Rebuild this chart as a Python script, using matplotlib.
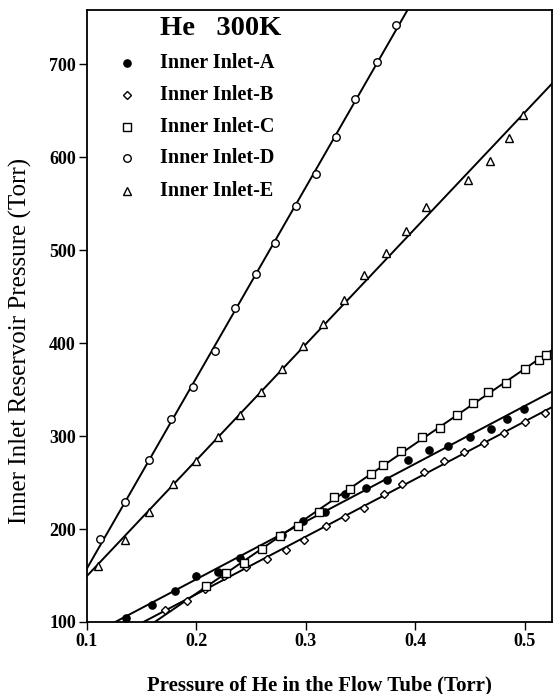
import numpy as np
import matplotlib
matplotlib.use("Agg")
import matplotlib.pyplot as plt

# ---- data ----
xA = [0.136, 0.159, 0.180, 0.200, 0.220, 0.240, 0.278, 0.297, 0.317, 0.336, 0.355,
      0.374, 0.393, 0.412, 0.430, 0.450, 0.469, 0.484, 0.499]
yA = [104, 118, 133, 150, 154, 169, 194, 209, 218, 238, 244,
      253, 274, 285, 289, 299, 308, 318, 329]

xB = [0.171, 0.191, 0.208, 0.225, 0.245, 0.264, 0.282, 0.298, 0.318, 0.336, 0.353,
      0.371, 0.388, 0.408, 0.426, 0.444, 0.463, 0.481, 0.500, 0.518]
yB = [113, 123, 135, 149, 159, 168, 178, 188, 203, 213, 223,
      238, 248, 261, 273, 283, 293, 303, 315, 325]

xC = [0.209, 0.227, 0.243, 0.260, 0.276, 0.293, 0.312, 0.326, 0.340, 0.359, 0.370,
      0.387, 0.406, 0.422, 0.438, 0.453, 0.466, 0.483, 0.500, 0.513, 0.519]
yC = [139, 153, 164, 179, 193, 203, 218, 234, 243, 259, 269,
      284, 299, 309, 323, 336, 347, 357, 372, 382, 387]

xD = [0.112, 0.135, 0.157, 0.177, 0.197, 0.217, 0.235, 0.254, 0.272, 0.291,
      0.309, 0.327, 0.345, 0.365, 0.382]
yD = [189, 229, 274, 318, 353, 392, 438, 474, 508, 548,
      582, 622, 663, 703, 742]

xE = [0.110, 0.135, 0.157, 0.179, 0.200, 0.220, 0.240, 0.259, 0.278, 0.297,
      0.316, 0.335, 0.353, 0.373, 0.391, 0.410, 0.448, 0.468, 0.485, 0.498]
yE = [160, 188, 218, 248, 273, 299, 323, 348, 372, 397,
      421, 446, 473, 497, 521, 547, 576, 596, 621, 646]

labels = ["Inner Inlet-A", "Inner Inlet-B", "Inner Inlet-C", "Inner Inlet-D", "Inner Inlet-E"]
xticks = [0.1, 0.2, 0.3, 0.4, 0.5]
yticks = [100, 200, 300, 400, 500, 600, 700]

plt.rcParams['font.family'] = ['Liberation Serif', 'DejaVu Serif']

fig = plt.figure(figsize=(5.54, 6.94), dpi=100)
ax = fig.add_axes([87/554, 72/694, 465/554, 612/694])

xmin, xmax = 0.1, 0.5247
ymin, ymax = 100, 758.5

styles = [
    dict(marker='o', ms=5.2, mfc='black', mec='black', mew=1.0),
    dict(marker='D', ms=3.6, mfc='white', mec='black', mew=1.0),
    dict(marker='s', ms=5.2, mfc='white', mec='black', mew=1.0),
    dict(marker='o', ms=5.4, mfc='white', mec='black', mew=1.0),
    dict(marker='^', ms=5.6, mfc='white', mec='black', mew=1.0),
]
series = [(xA, yA), (xB, yB), (xC, yC), (xD, yD), (xE, yE)]

xs_line = np.array([xmin - 0.05, xmax + 0.05])
for (xv, yv), st in zip(series, styles):
    k, b = np.polyfit(xv, yv, 1)
    ax.plot(xs_line, k * xs_line + b, color='black', lw=1.4, zorder=2)
    ax.plot(xv, yv, linestyle='none', zorder=3, **st)

ax.set_xlim(xmin, xmax)
ax.set_ylim(ymin, ymax)
ax.set_xticks(xticks)
ax.set_xticklabels([f"{t:g}" for t in xticks])
ax.set_yticks(yticks)
ax.tick_params(direction='out', length=6, width=1.0, labelsize=13, pad=2)
for lab in ax.get_xticklabels() + ax.get_yticklabels():
    lab.set_fontweight('bold')
for sp in ax.spines.values():
    sp.set_linewidth(1.3)

ax.set_xlabel("Pressure of He in the Flow Tube (Torr)", fontsize=15, fontweight='bold')
ax.xaxis.set_label_coords(0.5, -0.087)
ax.set_ylabel("Inner Inlet Reservoir Pressure (Torr)", fontsize=18)
ax.yaxis.set_label_coords(-0.118, 0.46)

# legend block
ax.text(0.157, 0.970, "He   300K", transform=ax.transAxes, fontsize=20.5,
        fontweight='bold', va='center', ha='left')
rows = [0.913, 0.861, 0.809, 0.758, 0.704]
for yy, st, lab in zip(rows, styles, labels):
    ax.plot([0.0854], [yy], transform=ax.transAxes, linestyle='none', clip_on=False, **st)
    ax.text(0.157, yy, lab, transform=ax.transAxes, fontsize=14.5,
            fontweight='bold', va='center', ha='left')

fig.savefig("out.png", dpi=100)
